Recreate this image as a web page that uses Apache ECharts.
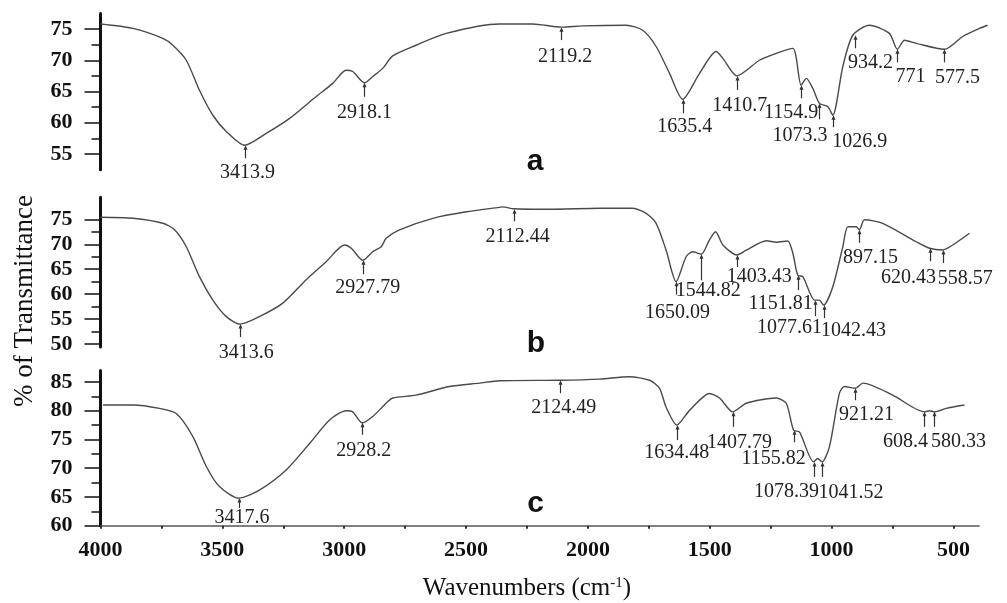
<!DOCTYPE html>
<html>
<head>
<meta charset="utf-8">
<script src="https://cdn.jsdelivr.net/npm/echarts@6/dist/echarts.min.js"></script>
<style>
  html, body { margin: 0; padding: 0; background: #fff; }
  #chart { width: 1007px; height: 603px; }
</style>
</head>
<body>
<div id="chart"></div>
<script>
// spectrum a
var waveA = [4000, 3867, 3744, 3703, 3648, 3594, 3539, 3484, 3409, 3320, 3224, 3115, 3047, 2992, 2965, 2917, 2883, 2842, 2801, 2705, 2582, 2363, 2226, 2110, 2021, 1843, 1775, 1720, 1665, 1611, 1542, 1474, 1446, 1389, 1296, 1227, 1159, 1125, 1104, 1077, 1050, 1016, 995, 954, 913, 845, 763, 730, 701, 653, 537, 462, 393, 360];
var transA = [75.8, 75.1, 73.5, 72.4, 70.0, 65.2, 61.2, 58.6, 56.4, 58.3, 60.7, 64.2, 66.3, 68.4, 68.2, 66.4, 67.4, 68.7, 70.7, 72.4, 74.3, 75.8, 75.8, 75.3, 75.5, 75.6, 74.8, 72.2, 67.9, 63.75, 67.9, 71.4, 70.3, 67.5, 70.0, 71.1, 71.9, 66.0, 67.1, 65.5, 63.1, 62.6, 61.2, 69.0, 74.0, 75.6, 74.3, 71.75, 73.2, 72.7, 71.75, 73.8, 75.1, 75.6];
var peakWaveA = [3409, 2917, 2110, 1611, 1389, 1125, 1050, 995, 902, 730, 537];
var peakTransA = [56.4, 66.4, 75.3, 63.75, 67.5, 66.0, 63.1, 61.2, 74.0, 71.75, 71.75];
var peakLabelA = ['3413.9', '2918.1', '2119.2', '1635.4', '1410.7', '1154.9', '1073.3', '1026.9', '934.2', '771', '577.5'];

// spectrum b
var waveB = [4000, 3867, 3744, 3696, 3648, 3594, 3539, 3484, 3427, 3348, 3252, 3156, 3074, 2999, 2971, 2924, 2883, 2848, 2828, 2773, 2636, 2499, 2363, 2349, 2305, 2158, 1952, 1816, 1761, 1720, 1679, 1638, 1597, 1570, 1535, 1501, 1476, 1446, 1389, 1350, 1268, 1227, 1180, 1159, 1139, 1118, 1070, 1050, 1033, 995, 954, 933, 899, 886, 865, 790, 653, 598, 544, 503, 434];
var transB = [75.4, 75.2, 74.2, 72.9, 69.5, 63.5, 58.8, 55.5, 54.0, 55.5, 58.2, 62.9, 66.5, 69.85, 69.2, 66.8, 68.5, 69.5, 71.2, 72.9, 75.2, 76.5, 77.4, 77.5, 77.1, 77.0, 77.2, 77.2, 76.2, 74.2, 68.8, 62.5, 67.5, 68.5, 68.0, 70.9, 72.5, 69.85, 67.85, 68.8, 70.7, 70.4, 70.65, 68.2, 63.8, 63.5, 58.8, 58.8, 57.8, 61.5, 69.5, 73.5, 73.5, 72.9, 74.9, 74.2, 70.5, 69.2, 68.85, 69.85, 72.2];
var peakWaveB = [3427, 2924, 2305, 1638, 1535, 1389, 1139, 1070, 1033, 886, 598, 544];
var peakTransB = [54.0, 66.8, 77.0, 62.5, 68.0, 67.85, 63.8, 58.8, 57.8, 72.9, 69.2, 68.85];
var peakLabelB = ['3413.6', '2927.79', '2112.44', '1650.09', '1544.82', '1403.43', '1151.81', '1077.61', '1042.43', '897.15', '620.43', '558.57'];

// spectrum c
var waveC = [3990, 3867, 3758, 3689, 3621, 3566, 3512, 3432, 3348, 3238, 3142, 3060, 2992, 2965, 2926, 2883, 2828, 2801, 2705, 2568, 2445, 2363, 2116, 1952, 1829, 1747, 1706, 1679, 1635, 1582, 1501, 1460, 1405, 1350, 1227, 1186, 1156, 1132, 1074, 1057, 1039, 1009, 968, 947, 902, 872, 749, 619, 598, 578, 530, 455];
var transC = [81.0, 81.0, 80.4, 79.5, 75.5, 70.3, 66.8, 64.8, 66.2, 69.7, 74.3, 78.4, 80.0, 79.8, 77.9, 79.0, 81.3, 82.2, 82.7, 84.2, 84.8, 85.2, 85.3, 85.5, 85.9, 85.3, 83.9, 80.6, 77.5, 80.1, 83.0, 82.2, 79.8, 81.3, 82.2, 81.3, 76.6, 76.3, 71.1, 71.7, 71.1, 73.7, 83.0, 84.2, 83.9, 84.8, 82.7, 79.8, 80.0, 79.8, 80.4, 81.0];
var peakWaveC = [3432, 2926, 2116, 1635, 1405, 1156, 1074, 1039, 902, 619, 578];
var peakTransC = [64.8, 77.9, 85.3, 77.5, 79.8, 76.6, 71.1, 71.1, 83.9, 79.8, 79.8];
var peakLabelC = ['3417.6', '2928.2', '2124.49', '1634.48', '1407.79', '1155.82', '1078.39', '1041.52', '921.21', '608.4', '580.33'];

// where each peak label sits relative to its arrow tip, and arrow lengths
var offsetsA = [[3, 27], [0, 30], [4, 29.4], [2, 27], [3, 29.5], [-10, 27.7], [-19.5, 32], [27, 26], [15, 27.5], [13, 27.7], [13, 28]];
var arrowsA = [13, 14, 13, 14, 14, 13, 16, 12, 13, 13, 13];
var offsetsB = [[6, 28.5], [5, 27.5], [4, 27.4], [1.5, 31], [7, 37], [22.5, 21.7], [-17, 28.7], [-25, 27.5], [30, 26], [11, 28.4], [-21, 30], [22.5, 28.3]];
var arrowsB = [13, 14, 12, 13, 26, 12, 15, 16, 13, 13, 13, 13];
var offsetsC = [[3, 20], [1.5, 27.5], [4, 27.5], [0, 28], [6.7, 30.5], [-20, 28.8], [-27, 30], [29, 31], [11, 26.7], [-19, 30], [24, 30]];
var arrowsC = [10, 12, 13, 15, 15, 12, 15, 15, 12, 15, 15];

var X0 = 100.5, KX = 0.2437;          // pixel of 4000 cm-1, px per cm-1
var pa = { v: 75, y: 29, k: 6.25 };   // panel a: pixel of value v, px per unit
var pb = { v: 75, y: 219.3, k: 4.99 };
var pc = { v: 80, y: 410.7, k: 5.75 };

function gridFor(p, xlo, ylo, yhi) {
  return { left: X0, width: (4000 - xlo) * KX, top: p.y - (yhi - p.v) * p.k, height: (yhi - ylo) * p.k };
}

var serif = '"Liberation Serif", "Times New Roman", serif';
var ink = '#111';

function lineAxisX(i, lo, showLine) {
  return {
    type: 'value', gridIndex: i, min: lo, max: 4000, inverse: true,
    show: showLine,
    axisLine: { show: true, lineStyle: { color: '#555', width: 1.5 } },
    axisTick: { show: false }, axisLabel: { show: false }, splitLine: { show: false }
  };
}
function lineAxisY(i, lo, hi) {
  return {
    type: 'value', gridIndex: i, min: lo, max: hi,
    axisLine: { show: true, lineStyle: { color: ink, width: 3 } },
    axisTick: { show: false }, axisLabel: { show: false }, splitLine: { show: false }
  };
}
function tickAxisY(i, lo, hi) {
  return {
    type: 'value', gridIndex: i, min: lo, max: hi, interval: 5,
    axisLine: { show: false },
    axisTick: { show: true, length: 16, lineStyle: { color: ink, width: 1.5 } },
    minorTick: { show: true, splitNumber: 2, length: 9, lineStyle: { color: ink, width: 1.5 } },
    axisLabel: { margin: 28, color: ink, fontFamily: serif, fontWeight: 'bold', fontSize: 22 },
    splitLine: { show: false }
  };
}

function peakRenderer(labels, offsets, arrows) {
  return function (params, api) {
    var i = params.dataIndex;
    var p = api.coord([api.value(0), api.value(1)]);
    var x = Math.round(p[0]) + 0.5, y = p[1];
    return {
      type: 'group',
      children: [
        { type: 'line', shape: { x1: x, y1: y + 2, x2: x, y2: y + arrows[i] }, style: { stroke: '#333', lineWidth: 1.2 } },
        { type: 'polygon', shape: { points: [[x, y], [x - 2, y + 4.5], [x + 2, y + 4.5]] }, style: { fill: '#333' } },
        { type: 'text', x: p[0] + offsets[i][0], y: y + offsets[i][1],
          style: { text: labels[i], font: '20px ' + serif, fill: '#222', align: 'center', verticalAlign: 'middle' } }
      ]
    };
  };
}

function pairs(xs, ys) { return xs.map(function (x, i) { return [x, ys[i]]; }); }

function curve(i, xs, ys) {
  return {
    type: 'line', xAxisIndex: i, yAxisIndex: i, data: pairs(xs, ys),
    symbol: 'none', smooth: 0.25, lineStyle: { color: '#4a4a4a', width: 1.4 }
  };
}
function peaks(i, xs, ys, labels, offsets, arrows) {
  return {
    type: 'custom', xAxisIndex: i, yAxisIndex: i, data: pairs(xs, ys),
    renderItem: peakRenderer(labels, offsets, arrows), z: 5
  };
}

var chart = echarts.init(document.getElementById('chart'));
chart.setOption({
  animation: false,
  backgroundColor: '#fff',
  grid: [
    gridFor(pa, 360, 52.5, 77.5), gridFor(pa, 500, 55, 75),
    gridFor(pb, 395, 49.4, 79.4), gridFor(pb, 500, 50, 75),
    gridFor(pc, 395, 60, 87), gridFor(pc, 500, 60, 85)
  ],
  xAxis: [
    lineAxisX(0, 360, false), lineAxisX(1, 500, false),
    lineAxisX(2, 395, false), lineAxisX(3, 500, false),
    lineAxisX(4, 395, true),
    {
      type: 'value', gridIndex: 5, min: 500, max: 4000, interval: 500, inverse: true,
      axisLine: { show: false },
      axisTick: { show: true, length: 3, lineStyle: { color: '#333', width: 2 } },
      minorTick: { show: true, splitNumber: 2, length: 3, lineStyle: { color: '#333', width: 2 } },
      axisLabel: { margin: 14, color: ink, fontFamily: serif, fontWeight: 'bold', fontSize: 22,
        formatter: function (v) { return String(v); } },
      splitLine: { show: false },
      name: 'Wavenumbers (cm{sup|-1})',
      nameLocation: 'middle', nameGap: 50,
      nameTextStyle: {
        color: ink, fontFamily: serif, fontSize: 25,
        rich: { sup: { fontFamily: serif, fontSize: 15, verticalAlign: 'top', color: ink, padding: [0, 0, 8, 0] } }
      }
    }
  ],
  yAxis: [
    lineAxisY(0, 52.5, 77.5), tickAxisY(1, 55, 75),
    lineAxisY(2, 49.4, 79.4), tickAxisY(3, 50, 75),
    lineAxisY(4, 60, 87), tickAxisY(5, 60, 85)
  ],
  graphic: [
    { type: 'text', x: 25, y: 301, rotation: Math.PI / 2,
      style: { text: '% of Transmittance', font: '27px ' + serif, fill: ink, align: 'center', verticalAlign: 'middle' } },
    { type: 'text', x: 535, y: 162, style: { text: 'a', font: 'bold 30px "Liberation Sans", Arial, sans-serif', fill: ink, align: 'center', verticalAlign: 'middle' } },
    { type: 'text', x: 536, y: 344, style: { text: 'b', font: 'bold 30px "Liberation Sans", Arial, sans-serif', fill: ink, align: 'center', verticalAlign: 'middle' } },
    { type: 'text', x: 535.5, y: 504, style: { text: 'c', font: 'bold 30px "Liberation Sans", Arial, sans-serif', fill: ink, align: 'center', verticalAlign: 'middle' } }
  ],
  series: [
    curve(0, waveA, transA), peaks(0, peakWaveA, peakTransA, peakLabelA, offsetsA, arrowsA),
    curve(2, waveB, transB), peaks(2, peakWaveB, peakTransB, peakLabelB, offsetsB, arrowsB),
    curve(4, waveC, transC), peaks(4, peakWaveC, peakTransC, peakLabelC, offsetsC, arrowsC)
  ]
});
</script>
</body>
</html>
